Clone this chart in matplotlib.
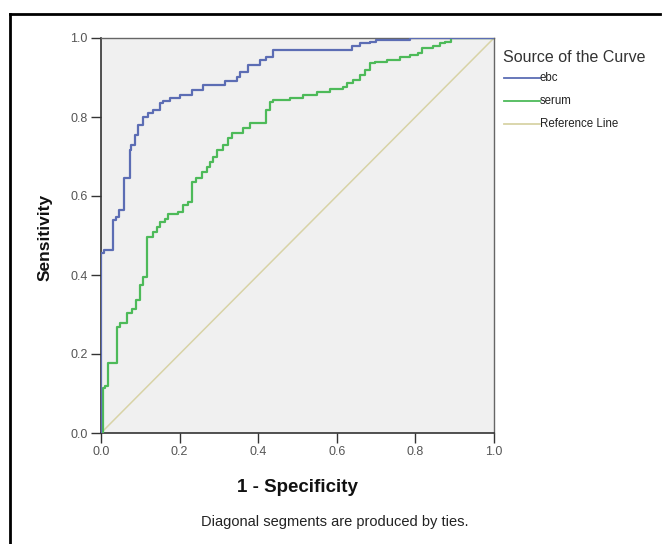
import matplotlib
matplotlib.use("Agg")
import matplotlib.pyplot as plt
from matplotlib.lines import Line2D

plt.rcParams['font.family'] = ['Liberation Sans', 'DejaVu Sans']

# ROC vertices (fpr, tpr reached at that fpr)
ebc_fpr = [0.0, 0.0, 0.008, 0.03, 0.038, 0.047, 0.058, 0.073, 0.077, 0.087, 0.095, 0.107,
           0.12, 0.133, 0.15, 0.158, 0.176, 0.201, 0.231, 0.26, 0.316, 0.345, 0.354, 0.375,
           0.405, 0.42, 0.438, 0.638, 0.659, 0.685, 0.70, 0.786, 1.0]
ebc_tpr = [0.0, 0.455, 0.463, 0.54, 0.548, 0.565, 0.645, 0.716, 0.73, 0.754, 0.78, 0.80,
           0.81, 0.818, 0.835, 0.841, 0.847, 0.856, 0.868, 0.881, 0.892, 0.902, 0.915, 0.932,
           0.944, 0.952, 0.970, 0.98, 0.987, 0.99, 0.995, 1.0, 1.0]

serum_fpr = [0.0, 0.006, 0.01, 0.019, 0.04, 0.048, 0.065, 0.078, 0.09, 0.099, 0.108, 0.116,
             0.133, 0.142, 0.15, 0.163, 0.171, 0.197, 0.209, 0.222, 0.231, 0.243, 0.256,
             0.269, 0.277, 0.286, 0.294, 0.311, 0.324, 0.333, 0.362, 0.379, 0.421, 0.43,
             0.438, 0.48, 0.515, 0.549, 0.583, 0.617, 0.625, 0.642, 0.659, 0.672, 0.684,
             0.697, 0.727, 0.761, 0.786, 0.807, 0.816, 0.846, 0.863, 0.875, 0.89, 1.0]
serum_tpr = [0.0, 0.114, 0.12, 0.177, 0.269, 0.278, 0.303, 0.313, 0.337, 0.375, 0.396, 0.497,
             0.51, 0.522, 0.535, 0.543, 0.554, 0.56, 0.577, 0.585, 0.636, 0.645, 0.662,
             0.674, 0.687, 0.70, 0.716, 0.729, 0.746, 0.759, 0.771, 0.784, 0.818, 0.839,
             0.843, 0.847, 0.856, 0.864, 0.87, 0.877, 0.885, 0.894, 0.906, 0.919, 0.936,
             0.94, 0.944, 0.952, 0.957, 0.961, 0.974, 0.98, 0.987, 0.99, 1.0, 1.0]

ref_x = [0.0, 1.0]
ref_y = [0.0, 1.0]

ticks = [0.0, 0.2, 0.4, 0.6, 0.8, 1.0]
tick_labels = ["0.0", "0.2", "0.4", "0.6", "0.8", "1.0"]

series_names = ["ebc", "serum", "Reference Line"]
colors = ["#5c6db4", "#4dba59", "#d8d3a6"]

W, H = 667, 544
fig = plt.figure(figsize=(W / 100, H / 100), dpi=100)
fig.patch.set_facecolor("white")

ax = fig.add_axes([101 / W, 1 - 433 / H, 393 / W, 395 / H])
ax.set_facecolor("#f0f0f0")
ax.plot(ref_x, ref_y, color=colors[2], lw=1.1, zorder=2)
ax.plot(serum_fpr, serum_tpr, drawstyle="steps-post", color=colors[1], lw=1.6, zorder=3)
ax.plot(ebc_fpr, ebc_tpr, drawstyle="steps-post", color=colors[0], lw=1.6, zorder=4)

ax.set_xlim(0, 1)
ax.set_ylim(0, 1)
ax.set_xticks(ticks)
ax.set_xticklabels(tick_labels)
ax.set_yticks(ticks)
ax.set_yticklabels(tick_labels)
ax.tick_params(axis="both", direction="out", length=7, width=1.0, color="#333333",
               labelsize=9, labelcolor="#555555", pad=2.5)
for side in ["left", "bottom"]:
    ax.spines[side].set_color("#333333")
    ax.spines[side].set_linewidth(1.2)
for side in ["top", "right"]:
    ax.spines[side].set_color("#666666")
    ax.spines[side].set_linewidth(1.0)

fig.text(297 / W, 1 - 487 / H, "1 - Specificity", ha="center", va="center",
         fontsize=13.5, fontweight="bold", color="#111111")
fig.text(45 / W, 1 - 237 / H, "Sensitivity", ha="center", va="center", rotation=90,
         fontsize=12.5, fontweight="bold", color="#111111")

fig.text(201 / W, 1 - 522 / H, "Diagonal segments are produced by ties.",
         ha="left", va="center", fontsize=10.5, color="#222222")

# legend
fig.text(503 / W, 1 - 58 / H, "Source of the Curve", ha="left", va="center",
         fontsize=11.5, color="#333333")
for i, (name, c) in enumerate(zip(series_names, colors)):
    y = 1 - (78 + 23 * i) / H
    fig.add_artist(Line2D([504 / W, 540 / W], [y, y], color=c, lw=1.3))
    fig.text(540 / W, y, name, ha="left", va="center", fontsize=8.3, color="#222222")

# outer frame (left and top)
fig.add_artist(Line2D([9.5 / W, 9.5 / W], [0, 1 - 14 / H], color="black", lw=2))
fig.add_artist(Line2D([9.5 / W, 660 / W], [1 - 14 / H, 1 - 14 / H], color="black", lw=2))

fig.savefig("out.png", dpi=100)
